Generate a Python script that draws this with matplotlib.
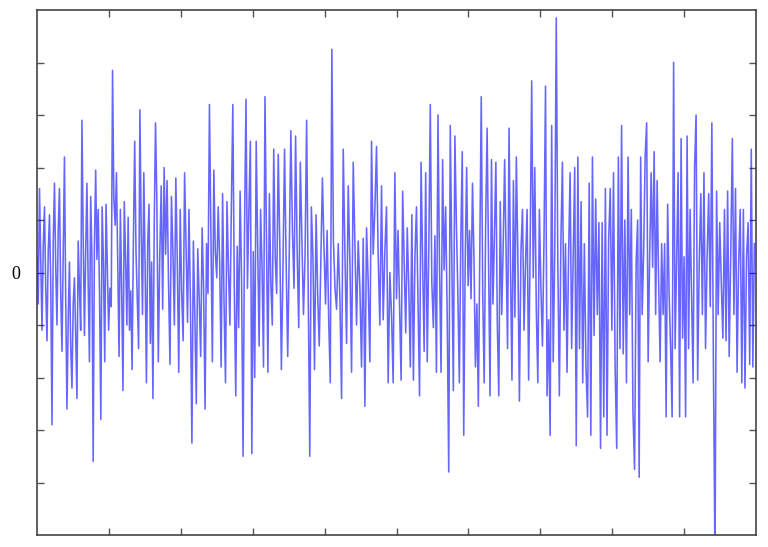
import numpy as np
import matplotlib
matplotlib.use("Agg")
import matplotlib.pyplot as plt

# values, left to right, in units of one y tick step
seg01 = [0.3, -0.6, 1.6, 0.2, -1.1, 0.5, 1.25, -0.3, -1.3, 0.4, 1.1, -0.2, -2.9, 0.6, 1.7, 0.1,
         -1.0, 0.8, 1.6, -0.4, -1.5, 0.3, 2.2, -0.5, -2.6, -0.9, 0.2, -1.4, -2.2, -0.6, -0.1, -1.2,
         -2.4, 0.6, -0.3, -1.1, 2.9, 0.7, -1.2, 0.4, 1.7, -0.2, -1.7, 1.45, 0.3, -3.6, 0.5, 1.95]
seg02 = [0.25, 1.2, -0.4, -2.8, 1.25, 0.2, -1.7, 1.3, 0.1, -1.1, -0.3, -0.65, 3.85, 1.4, 0.9, 1.9,
         0.2, -1.6, 1.2, -0.3, -2.25, 1.35, 0.3, -1.0, 1.05, -1.1, -0.35, -1.85, 0.6, 2.5, 0.4, -0.5,
         -1.45, 3.1, 0.8, -0.8, 1.9, 0.1, -2.1, 0.55, 1.3, -1.35, 0.2, -2.4, 0.9, 2.85]
seg03 = [1.4, -1.7, 0.3, 1.65, -0.7, 2.0, 0.35, 1.75, -0.2, -1.75, 1.45, 0.4, -1.0, 1.8, 0.2, -1.9,
         1.2, -0.4, -1.3, 1.9, 0.5, -0.95, 1.2, -0.6, -3.25, 0.6, -0.8, -2.5, 0.45, -0.5, -1.6, 0.85,
         -0.3, -2.6, 0.55, -0.4, 3.2, 0.7, -1.7, 1.95, 0.4]
seg04 = [-0.1, 1.25, 0.2, -1.8, 1.5, -0.6, -2.1, 1.35, 0.1, -1.0, 1.25, 3.2, -0.3, -2.35, 0.5, -1.05,
         1.55, -0.2, -3.5, 0.8, 3.3, -0.3, 1.2, 2.5, -3.45, 0.4, -2.0, 2.5, 0.6, -1.4, 1.2, 0.1,
         -1.8, 3.35, 0.7, -1.9, 1.5, -0.2, -1.0, 2.35, 0.3]
seg05 = [-0.4, 2.25, 0.5, -1.85, 0.1, 2.35, 0.2, -1.6, 0.4, 2.7, 0.8, -0.3, 2.6, 0.4, -1.05, 2.1,
         0.6, -0.8, 0.3, 2.9, -0.2, -3.5, 1.25, 0.3, -1.85, 1.1, -0.4, -1.4, 0.2, 1.8, 0.5, -0.6,
         0.8, -0.9, -2.1, 4.25, 0.6, -0.3]
seg06 = [-0.7, 0.55, -0.5, -2.4, 2.35, 0.4, -1.35, 1.65, 0.2, -1.9, 2.1, 0.5, -1.0, 0.6, -0.3, -1.8,
         0.65, -2.55, 0.85, -0.2, -1.7, 2.5, 0.35, 1.2, 2.4, 0.3, -1.0, 1.65, -0.9, 0.4, 1.25, -2.1,
         0.0, -0.8, -2.1, 1.9]
seg07 = [-0.5, 0.8, -0.6, -2.05, 1.55, 0.2, -1.15, 0.85, -0.3, -1.8, 1.1, -2.05, 0.3, 1.25, -0.5, -2.35,
         2.1, 0.2, -1.5, 1.9, -1.7, 0.4, 3.2, -0.2, -1.05, 0.7, -1.9, 3.0, 0.1, -1.9, 2.15, 0.05,
         1.25, -0.8, -3.8, 2.8, 0.3, -2.25, 2.6]
seg08 = [0.9, -0.4, -2.1, 0.6, 2.3, -3.1, 0.2, 2.0, -0.25, 0.8, -0.5, 1.7, 0.3, -1.8, -0.6, -2.55,
         0.5, 3.35, -0.4, -2.1, 0.9, 2.75, 0.2, -2.35, 2.15, -0.6, 0.7, 2.1, -1.0, -2.35, 1.35, -0.8,
         0.5, 2.15, 0.4, -1.45, 2.75, 0.1, -2.05, 1.75, -0.85]
seg09 = [2.2, 0.3, -2.45, 0.4, 1.2, -1.1, 0.2, 1.2, -2.05, 0.5, 3.65, -0.1, 2.0, -0.7, -2.1, 1.2,
         -0.3, -1.4, 0.6, 3.55, -2.35, -0.9, -3.1, 2.8, -1.7, 0.4, 4.85, 0.2, -2.35, 0.6, 2.1, -1.1,
         0.55, -1.9, 0.3, 1.9, -1.45, 0.3, 2.0]
seg10 = [-3.3, 2.2, -1.45, 1.35, -2.1, 0.55, -1.8, -2.75, 1.7, -3.1, 2.2, -1.2, 1.4, -0.8, 0.95, -3.35,
         0.95, -2.75, 1.6, -3.1, 0.6, 1.6, -1.1, 1.9, -1.8, -3.35, 2.2, -1.45, 2.8, -1.55, 1.0, -2.1,
         2.2, -0.8, 1.2, -2.6, -3.75]
seg11 = [0.2, 1.0, -3.9, 2.2, -0.8, 0.4, 2.2, 2.85, -1.7, 0.3, 1.9, 0.1, 2.3, -0.8, 1.75, -0.2,
         -1.7, 0.55, -0.8, 0.55, -2.75, 1.3, -0.4, -1.45, -2.75, 4.0, -1.45, 0.2, 1.9, -2.75, 2.55, -1.25,
         0.3, -2.75, 2.6, -1.45, 1.2, -0.5, -2.1, 2.0]
seg12 = [3.0, -2.05, 0.2, 1.5, -0.8, 1.9, -1.45, 0.3, 1.5, -0.65, 2.85, -1.8, -5.5, 1.55, -0.8, 0.95,
         -0.2, -1.25, 1.2, -1.3, 1.55, -1.6, 0.4, 2.55, -0.8, 1.6, -1.9, 0.2, 1.2, -2.1, 1.2, -2.2,
         0.3, 0.95, -1.75, 2.35, -1.8, 0.55]

segments = [seg01, seg02, seg03, seg04, seg05, seg06, seg07, seg08, seg09, seg10, seg11, seg12]
y_ticks = [-4, -3, -2, -1, 0, 1, 2, 3, 4]
y_labels = ["", "", "", "", "0", "", "", "", ""]

# each segment covers 1/12 of the sample axis
span = 50
t = np.concatenate([np.linspace(i * span, (i + 1) * span, len(s), endpoint=False)
                    for i, s in enumerate(segments)])
y = np.concatenate([np.array(s) for s in segments])
t_max = span * len(segments)

fig = plt.figure(figsize=(7.68, 5.47), dpi=100)
ax = fig.add_axes([37 / 768, 12 / 547, 719 / 768, 525 / 547])
ax.plot(t, y, color="#0000ff", linewidth=1.15, alpha=0.6)

ax.set_xlim(0, t_max)
ax.set_ylim(-5, 5)
ax.set_xticks(np.linspace(0, t_max, 11)[1:-1])
ax.set_xticklabels([])
ax.set_yticks(y_ticks)
ax.set_yticklabels(y_labels, fontfamily="Liberation Serif", fontsize=13)
ax.tick_params(direction="in", top=True, right=True, length=5, width=1,
               color="#555555", pad=12)
for sp in ax.spines.values():
    sp.set_color("#444444")
    sp.set_linewidth(1.2)

fig.savefig("out.png", dpi=100)
